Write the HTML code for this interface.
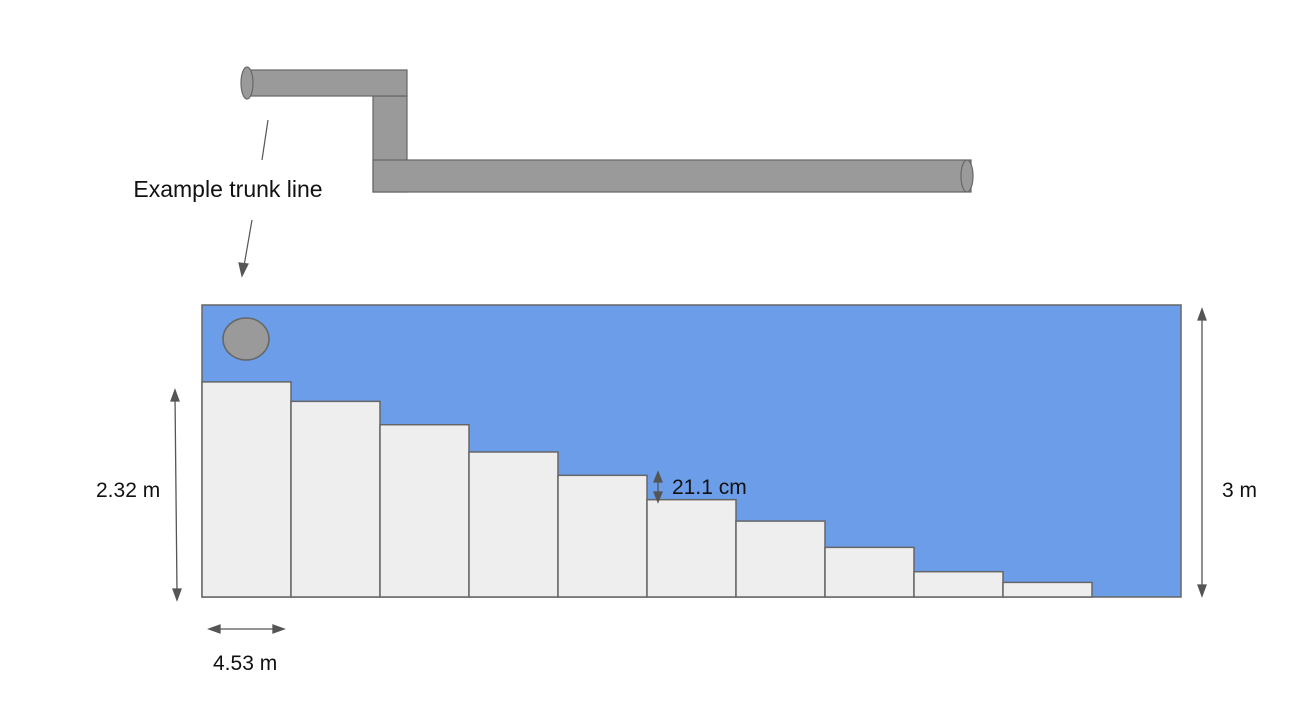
<!DOCTYPE html>
<html><head><meta charset="utf-8"><style>
body{margin:0;background:#fff}
svg{display:block;font-family:"Liberation Sans",Arial,sans-serif}
</style></head><body>
<svg id="c" width="1303" height="714" viewBox="0 0 1303 714">
<g fill="#9a9a9a" stroke="#666" stroke-width="1.2">
<rect x="373" y="96" width="34" height="96"/>
<rect x="247" y="70" width="160" height="26"/>
<ellipse cx="247" cy="83" rx="6" ry="16"/>
<rect x="373" y="160" width="598" height="32"/>
<ellipse cx="967" cy="176" rx="6" ry="16"/>
</g>
<g stroke="#555" stroke-width="1.2" fill="#555">
<line x1="268" y1="120" x2="262" y2="160"/>
<line x1="252" y1="220" x2="244" y2="266"/>
<polygon points="242,276 239,263 248,264"/>
</g>
<text x="228" y="197" font-size="23" text-anchor="middle" fill="#111">Example trunk line</text>
<rect x="202" y="305" width="979" height="292" fill="#6b9de8" stroke="#666" stroke-width="1.5"/>
<ellipse cx="246" cy="339" rx="23" ry="21" fill="#9a9a9a" stroke="#666" stroke-width="1.5"/>
<g id="steps"></g>
<g stroke="#555" stroke-width="1.3" fill="#555">
<line x1="175" y1="396" x2="177" y2="592"/>
<polygon points="175,390 171,401 179,401"/>
<polygon points="177,600 173,589 181,589"/>
<line x1="1202" y1="315" x2="1202" y2="590"/>
<polygon points="1202,309 1198,320 1206,320"/>
<polygon points="1202,596 1198,585 1206,585"/>
<line x1="216" y1="629" x2="278" y2="629"/>
<polygon points="209,629 220,625 220,633"/>
<polygon points="284,629 273,625 273,633"/>
<line x1="658" y1="478" x2="658" y2="497"/>
<polygon points="658,472 654,482 662,482"/>
<polygon points="658,502 654,492 662,492"/>
</g>
<g font-size="21" fill="#111">
<text x="96" y="497">2.32 m</text>
<text x="1222" y="497">3 m</text>
<text x="213" y="670">4.53 m</text>
<text x="672" y="494">21.1 cm</text>
</g>
</svg>
<script>
const stepNames = ["s1","s2","s3","s4","s5","s6","s7","s8","s9","s10"];
const stepHeights = [2.21,2.01,1.77,1.49,1.25,1.0,0.78,0.51,0.26,0.15];
const tankHeight = 3;
const x0 = 202, stepW = 89, yBase = 597, plotH = 292;
const y = v => yBase - v / tankHeight * plotH;
const g = document.getElementById('steps');
stepHeights.forEach((v, i) => {
  const r = document.createElementNS('http://www.w3.org/2000/svg', 'rect');
  r.setAttribute('x', x0 + i * stepW);
  r.setAttribute('y', y(v));
  r.setAttribute('width', stepW);
  r.setAttribute('height', yBase - y(v));
  r.setAttribute('fill', '#eeeeee');
  r.setAttribute('stroke', '#666');
  r.setAttribute('stroke-width', '1.5');
  
  
  g.appendChild(r);
});
</script>
</body></html>
